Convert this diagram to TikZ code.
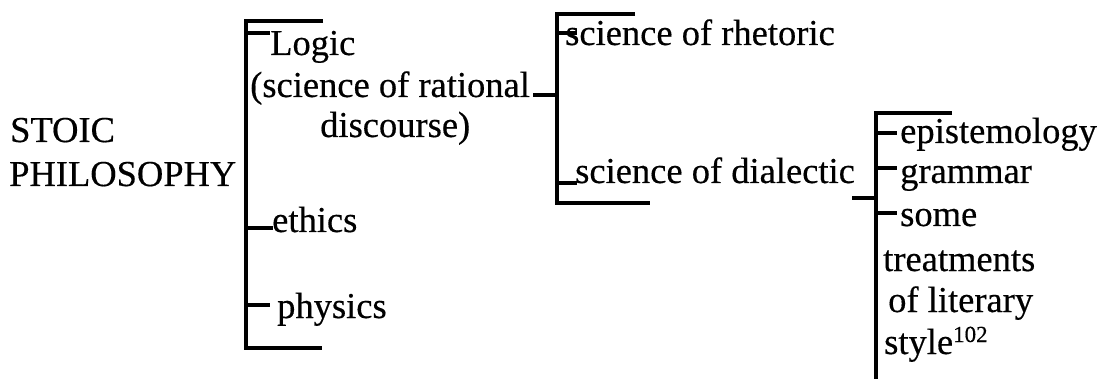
\documentclass[tikz,border=0pt]{standalone}
\usepackage{fontspec}
\setmainfont{Liberation Serif}[FakeBold=0.4]
\newcommand{\supnum}[1]{\raisebox{12pt}{\fontsize{23}{23}\selectfont #1}}
\begin{document}
\begin{tikzpicture}[x=1pt,y=-1pt,
  txt/.style={anchor=base west, inner sep=0pt, font=\fontsize{36.5}{40}\selectfont},
  brk/.style={line width=4.5pt},
  tickline/.style={line width=4pt}]
\useasboundingbox (0,0) rectangle (1102,379);
% texts
\node[txt] (stoic) at (10,142) {STOIC};
\node[txt] (philo) at (9,186) {PHILOSOPHY};
\node[txt] (logic) at (270,55) {Logic};
\node[txt] (sci) at (250,97) {(science of rational};
\node[txt] (disc) at (320,137) {discourse)};
\node[txt] (ethics) at (272,232) {ethics};
\node[txt] (phys) at (277,318) {physics};
\node[txt] (rhet) at (565,45) {science of rhetoric};
\node[txt] (dial) at (575,183) {science of dialectic};
\node[txt] (epis) at (900,143) {epistemology};
\node[txt] (gram) at (900,183) {grammar};
\node[txt] (some) at (900,226) {some};
\node[txt] (treat) at (883,271) {treatments};
\node[txt] (lit) at (888,312) {of literary};
\node[txt] (style) at (884,354) {style\supnum{102}};
% bracket 1
\coordinate (a1) at (323,21); \coordinate (a2) at (246,21);
\coordinate (a3) at (246,348); \coordinate (a4) at (322,348);
\draw[brk] (a1) -- (a2) -- (a3) -- (a4);
\coordinate (t1) at (246,33); \coordinate (t1e) at (270,33);
\coordinate (t2) at (246,228); \coordinate (t2e) at (273,228);
\coordinate (t3) at (246,305); \coordinate (t3e) at (270,305);
\draw[tickline] (t1) -- (t1e);
\draw[tickline] (t2) -- (t2e);
\draw[tickline] (t3) -- (t3e);
% bracket 2
\coordinate (b1) at (635,14); \coordinate (b2) at (557,14);
\coordinate (b3) at (557,203); \coordinate (b4) at (650,203);
\draw[brk] (b1) -- (b2) -- (b3) -- (b4);
\coordinate (u0) at (533,95); \coordinate (u0e) at (557,95);
\coordinate (u1) at (557,33); \coordinate (u1e) at (577,33);
\coordinate (u2) at (557,183); \coordinate (u2e) at (577,183);
\draw[tickline] (u0) -- (u0e);
\draw[tickline] (u1) -- (u1e);
\draw[tickline] (u2) -- (u2e);
% bracket 3
\coordinate (c1) at (952,113); \coordinate (c2) at (876,113);
\coordinate (c3) at (876,385);
\draw[brk] (c1) -- (c2) -- (c3);
\coordinate (v0) at (852,198); \coordinate (v0e) at (876,198);
\coordinate (v1) at (876,133); \coordinate (v1e) at (897,133);
\coordinate (v2) at (876,168); \coordinate (v2e) at (897,168);
\coordinate (v3) at (876,213); \coordinate (v3e) at (897,213);
\draw[tickline] (v0) -- (v0e);
\draw[tickline] (v1) -- (v1e);
\draw[tickline] (v2) -- (v2e);
\draw[tickline] (v3) -- (v3e);
\end{tikzpicture}
\end{document}
